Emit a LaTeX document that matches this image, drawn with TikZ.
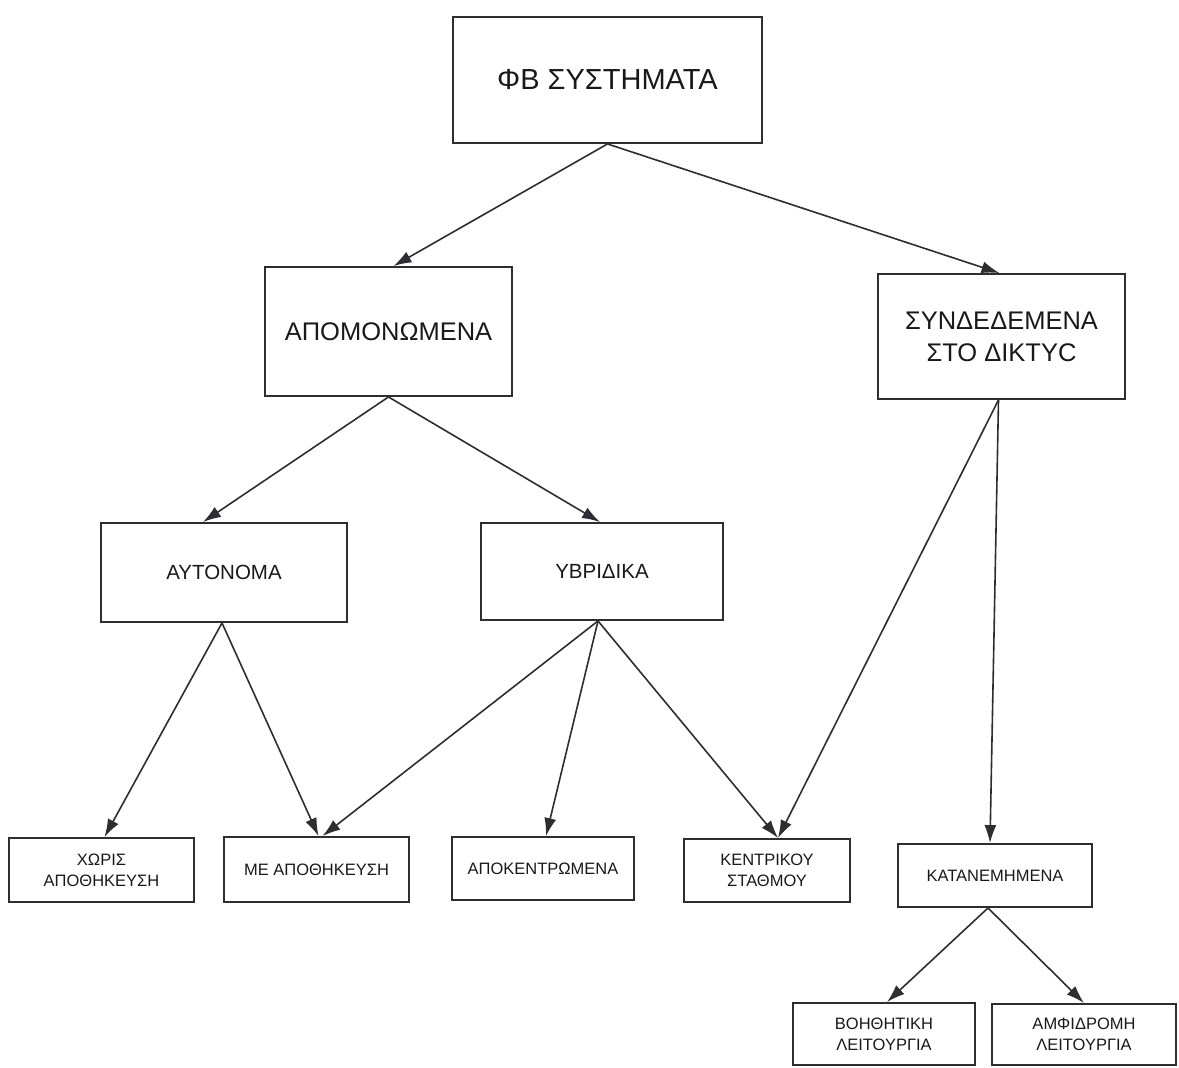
\documentclass[tikz,border=0pt]{standalone}
\usepackage{fontspec}
\setmainfont{Liberation Sans}
\usetikzlibrary{arrows.meta}
\definecolor{ln}{HTML}{2E2E32}
\tikzset{
  box/.style={draw=ln, line width=1.9pt, rectangle, inner sep=0pt, align=center, text=black!90},
  big/.style={box, font=\fontsize{29}{35}\selectfont},
  mid/.style={box, font=\fontsize{25.5}{32}\selectfont},
  sml/.style={box, font=\fontsize{20.5}{25}\selectfont},
  tiny/.style={box, font=\fontsize{16.5}{21}\selectfont},
  arr/.style={draw=ln, line width=1.6pt, -{Latex[length=18pt,width=12pt]}}
}
\begin{document}
\begin{tikzpicture}[x=1pt,y=-1pt]
\useasboundingbox (0,0) rectangle (1179,1068);
\node[big, minimum width=309pt, minimum height=126pt] (fb) at (607.5,80) {ΦΒ ΣΥΣΤΗΜΑΤΑ};
\node[mid, minimum width=247pt, minimum height=129pt] (apo) at (388.5,331.5) {ΑΠΟΜΟΝΩΜΕΝΑ};
\node[mid, minimum width=247pt, minimum height=125pt] (syn) at (1001.5,336.5) {ΣΥΝΔΕΔΕΜΕΝΑ\\ΣΤΟ ΔΙΚΤΥC};
\node[sml, minimum width=246pt, minimum height=99pt] (aut) at (224,572.5) {ΑΥΤΟΝΟΜΑ};
\node[sml, minimum width=242pt, minimum height=97pt] (ybr) at (602,571.5) {ΥΒΡΙΔΙΚΑ};
\node[tiny, minimum width=185pt, minimum height=64pt] (xor) at (101.5,870) {ΧΩΡΙΣ\\ΑΠΟΘΗΚΕΥΣΗ};
\node[tiny, minimum width=185pt, minimum height=65pt] (meap) at (316.5,869.5) {ΜΕ ΑΠΟΘΗΚΕΥΣΗ};
\node[tiny, minimum width=182pt, minimum height=63pt] (apok) at (543,868.5) {ΑΠΟΚΕΝΤΡΩΜΕΝΑ};
\node[tiny, minimum width=166pt, minimum height=63pt] (kent) at (767,870.5) {ΚΕΝΤΡΙΚΟΥ\\ΣΤΑΘΜΟΥ};
\node[tiny, minimum width=194pt, minimum height=63pt] (katan) at (995,875.5) {ΚΑΤΑΝΕΜΗΜΕΝΑ};
\node[tiny, minimum width=182pt, minimum height=62pt] (voi) at (884,1034) {ΒΟΗΘΗΤΙΚΗ\\ΛΕΙΤΟΥΡΓΙΑ};
\node[tiny, minimum width=184pt, minimum height=61pt] (amf) at (1084,1034.5) {ΑΜΦΙΔΡΟΜΗ\\ΛΕΙΤΟΥΡΓΙΑ};

\draw[arr] (fb.south) -- ([xshift=5pt]apo.north);
\draw[arr] (fb.south) -- ([xshift=-2pt]syn.north);
\draw[arr] (apo.south) -- ([xshift=-21pt]aut.north);
\draw[arr] (apo.south) -- ([xshift=-2pt]ybr.north);
\draw[arr] ([xshift=-3pt]syn.south) -- ([xshift=11pt]kent.north);
\draw[arr] ([xshift=-3pt]syn.south) -- ([xshift=-5pt]katan.north);
\draw[arr] ([xshift=-2pt]aut.south) -- ([xshift=3pt]xor.north);
\draw[arr] ([xshift=-2pt]aut.south) -- ([xshift=2pt]meap.north);
\draw[arr] ([xshift=-4pt]ybr.south) -- ([xshift=6pt]meap.north);
\draw[arr] ([xshift=-4pt]ybr.south) -- ([xshift=3pt]apok.north);
\draw[arr] ([xshift=-4pt]ybr.south) -- ([xshift=11pt]kent.north);
\draw[arr] ([xshift=-7pt]katan.south) -- ([xshift=3pt]voi.north);
\draw[arr] ([xshift=-7pt]katan.south) -- (amf.north);
\end{tikzpicture}
\end{document}
